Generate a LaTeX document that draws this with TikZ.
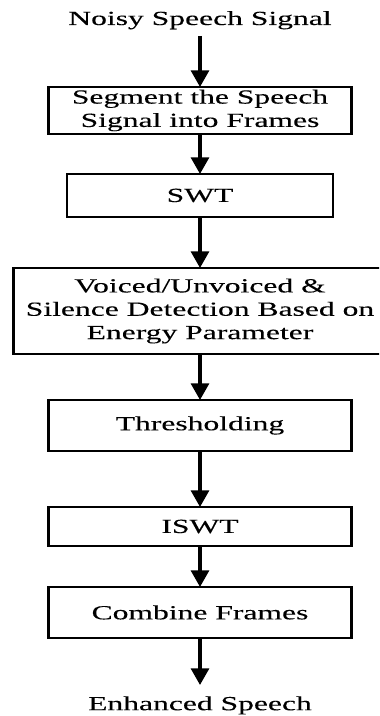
\documentclass[tikz,border=0pt]{standalone}
\usepackage{fontspec}
\setmainfont{Liberation Serif}[FakeStretch=1.58,FakeBold=0.15]
\usepackage{tikz}
\usetikzlibrary{positioning,arrows.meta}
\definecolor{flowink}{HTML}{000000}
\tikzset{
  stagebox/.style={draw=flowink,line width=1.7pt,align=center,inner sep=2pt,outer sep=0pt,
                   font=\fontsize{15pt}{17.5pt}\selectfont,minimum width=227.25pt},
  sig/.style     ={align=center,inner sep=5pt,outer sep=0pt,font=\fontsize{15pt}{17.5pt}\selectfont},
  arr/.style     ={-{Triangle[width=13.5pt,length=12.5pt]},line width=2.4pt,draw=flowink},
}
\begin{document}
\begin{tikzpicture}
  \path[use as bounding box,clip] (0,0) rectangle (284.25pt,-537pt);

  \node[sig,anchor=base] (noisy) at (150pt,-18.75pt) {Noisy Speech Signal};
  \node[stagebox,below=38.25pt of noisy,minimum height=35.25pt] (seg) {Segment the Speech\\Signal into Frames};
  \node[stagebox,below=30pt of seg,minimum width=199.5pt,minimum height=32.25pt] (swt) {SWT};
  \node[stagebox,below=38.25pt of swt,minimum width=279.75pt,minimum height=64.5pt] (vuv)
    {Voiced/Unvoiced \&\\Silence Detection Based on\\Energy Parameter};
  \node[stagebox,below=34.5pt of vuv,minimum height=38.25pt] (thr) {Thresholding};
  \node[stagebox,below=42pt of thr,minimum height=29.25pt] (iswt) {ISWT};
  \node[stagebox,below=30.75pt of iswt,minimum height=38.25pt] (comb) {Combine Frames};
  \node[sig,below=35.25pt of comb,inner ysep=8.5pt] (enh) {Enhanced Speech};

  \draw[arr] (noisy) -- (seg);
  \draw[arr] (seg) -- (swt);
  \draw[arr] (swt) -- (vuv);
  \draw[arr] (vuv) -- (thr);
  \draw[arr] (thr) -- (iswt);
  \draw[arr] (iswt) -- (comb);
  \draw[arr] (comb) -- (enh);
\end{tikzpicture}
\end{document}
